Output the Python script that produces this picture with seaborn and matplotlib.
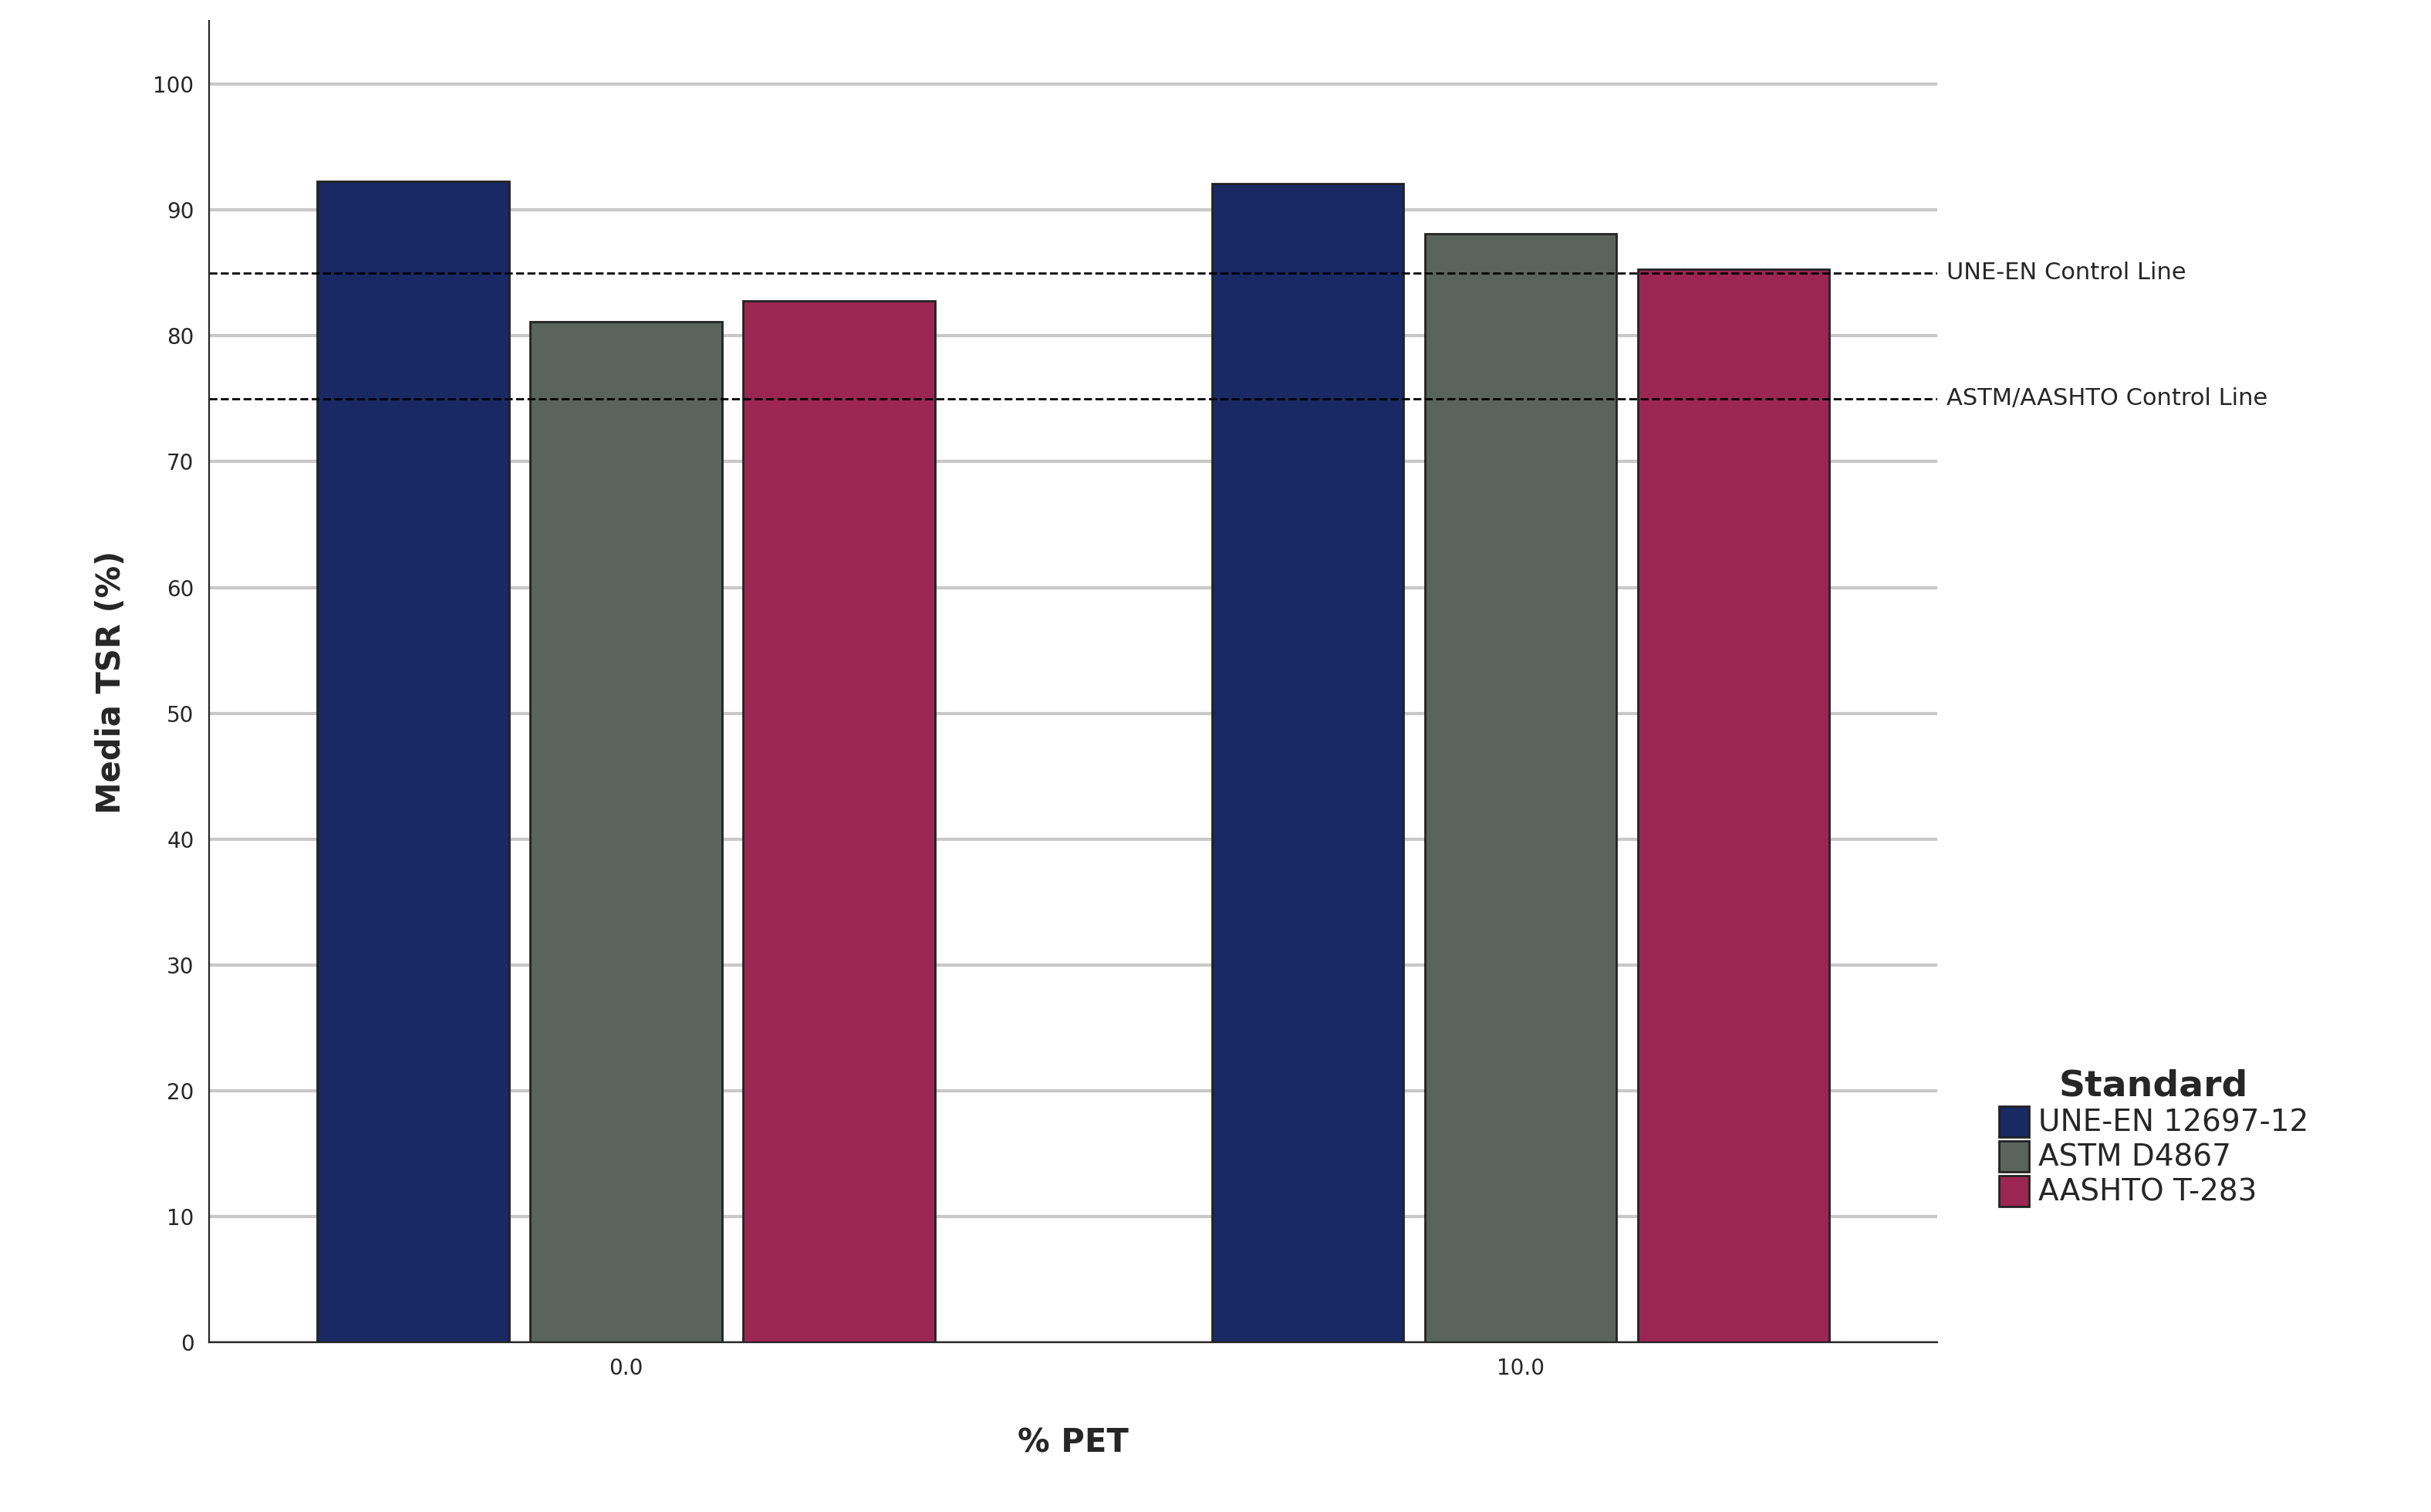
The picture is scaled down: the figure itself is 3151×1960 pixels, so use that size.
import numpy as np
import pandas as pd
import seaborn as sns
import matplotlib.pyplot as plt

sns.set_style("white")
plt.rcParams['font.family'] = ['DejaVu Sans']

pet = ["0.0", "0.0", "0.0", "10.0", "10.0", "10.0"]
standard = ["UNE-EN 12697-12", "ASTM D4867", "AASHTO T-283"] * 2
tsr = [92.3, 81.1, 82.8, 92.1, 88.1, 85.3]
colors = ["#0b2270", "#58655c", "#ae124e"]
control = {"UNE-EN Control Line": 85, "ASTM/AASHTO Control Line": 75}

d = pd.DataFrame({"pet": pet, "standard": standard, "tsr": tsr})

fig = plt.figure(figsize=(15.755, 9.8), dpi=200)
ax = fig.add_axes([0.086, 0.112, 0.711, 0.874])

ax.set_axisbelow(True)
ax.yaxis.grid(True, color="#c8c8c8", linewidth=1.5)
sns.barplot(data=d, x="pet", y="tsr", hue="standard", palette=colors,
            width=0.714, gap=0.1, edgecolor="#222222", linewidth=1, ax=ax)

for name, val in control.items():
    ax.axhline(val, color="black", linestyle="--", linewidth=1)
    ax.text(1.005, val, name, transform=ax.get_yaxis_transform(),
            va="center", ha="left", fontsize=11)

ax.set_xlim(-0.466, 1.466)
ax.set_ylim(0, 105)
ax.set_yticks(range(0, 101, 10))
ax.tick_params(labelsize=10)
ax.set_xlabel("% PET", fontsize=15, fontweight="bold", labelpad=22)
ax.set_ylabel("Media TSR (%)", fontsize=15, fontweight="bold", labelpad=12)
sns.despine(ax=ax, top=True, right=True)

leg = ax.legend(title="Standard", loc="center left", bbox_to_anchor=(1.02, 0.155),
                frameon=False, fontsize=14, handlelength=1.0, handleheight=1.2,
                handletextpad=0.3, labelspacing=0.1)
leg.get_title().set_fontweight("bold")
leg.get_title().set_fontsize(17)

plt.savefig("out.png", dpi=200)
